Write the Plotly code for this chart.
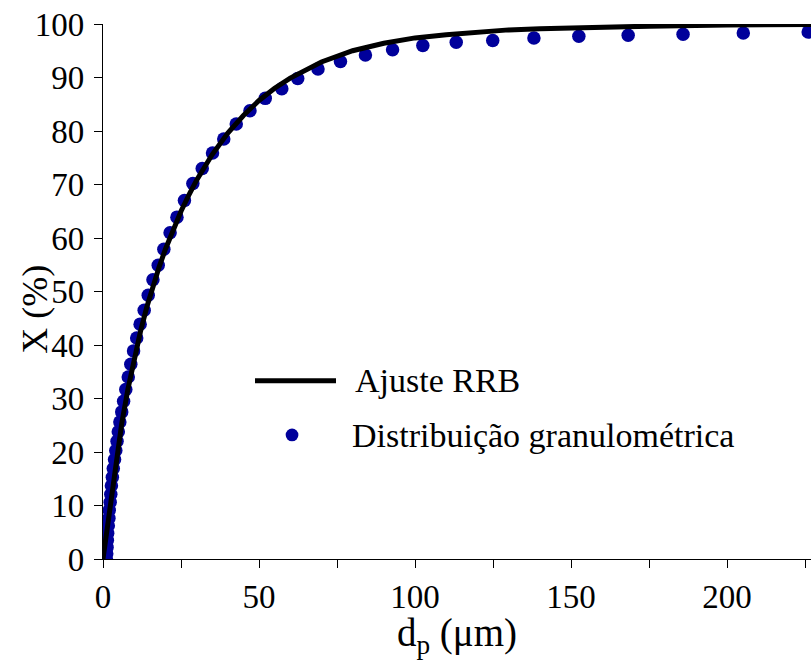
import plotly.graph_objects as go

# Measured particle size distribution (d_p in um, cumulative X in %)
dist_d = [1.1, 1.2, 1.3, 1.4, 1.5, 1.7, 1.9, 2.0, 2.3, 2.5, 2.7, 3.0, 3.3, 3.7, 4.1, 4.5,
          4.9, 5.4, 6.0, 6.6, 7.3, 8.1, 8.9, 9.8, 10.8, 11.9, 13.2, 14.5, 16.0, 17.7,
          19.5, 21.5, 23.7, 26.1, 28.8, 31.8, 35.1, 38.7, 42.7, 47.1, 52.0, 57.3,
          62.4, 68.9, 76.1, 84.1, 92.8, 102.5, 113.2, 124.9, 138.1, 152.5, 168.3,
          185.9, 205.2, 226.0]
dist_x = [0.0, 1.0, 2.2, 3.5, 4.8, 6.2, 7.6, 9.1, 10.6, 12.1, 13.7, 15.3, 16.9, 18.6, 20.3, 22.0,
          23.8, 25.6, 27.5, 29.5, 31.7, 34.0, 36.4, 38.9, 41.3, 43.9, 46.5, 49.3, 52.2, 54.9,
          57.9, 61.0, 63.9, 67.0, 70.2, 73.0, 75.9, 78.5, 81.3, 83.8, 86.1, 87.9,
          89.8, 91.6, 93.0, 94.2, 95.2, 96.0, 96.6, 96.9, 97.4, 97.7, 97.9,
          98.1, 98.3, 98.5]

# RRB fit curve
fit_d = [0, 0.5, 1, 2, 3, 4, 5, 6, 8, 10, 12, 14, 16, 18, 20, 22.5, 25, 27.5, 30, 35, 40,
         45, 50, 55, 60, 70, 80, 90, 100, 110, 120, 130, 140, 150, 160, 175, 200, 227]
fit_x = [0, 2.0, 4.0, 8.5, 13.0, 17.5, 21.5, 25.3, 31.8, 37.5, 42.5, 47.0, 51.0, 54.6, 57.9,
         61.6, 65.0, 68.0, 70.8, 75.6, 79.6, 82.9, 85.7, 88.0, 89.9, 92.9, 95.0, 96.4, 97.4,
         98.0, 98.5, 98.9, 99.1, 99.3, 99.5, 99.6, 99.8, 99.9]

series_names = ["Ajuste RRB", "Distribuição granulométrica"]
y_ticks = [0, 10, 20, 30, 40, 50, 60, 70, 80, 90, 100]
x_title = "d<sub>p</sub> (μm)"
y_title = "X (%)"

FONT = "Liberation Serif"
BLUE = "#00009B"

fig = go.Figure()
fig.add_trace(go.Scatter(x=dist_d, y=dist_x, mode="markers", name=series_names[1],
                         marker=dict(color=BLUE, size=13.5), showlegend=False))
fig.add_trace(go.Scatter(x=fit_d, y=fit_x, mode="lines", name=series_names[0],
                         line=dict(color="black", width=5), showlegend=False))

X_MAX = 226.9
fig.update_layout(
    width=811, height=660,
    margin=dict(l=103, r=0, t=24, b=101),
    paper_bgcolor="white", plot_bgcolor="white",
    font=dict(family=FONT, color="black", size=33),
    xaxis=dict(range=[0, X_MAX], dtick=50, tick0=0, ticks="outside", ticklen=8,
               tickwidth=1.3, tickcolor="black", showline=True, linecolor="black",
               linewidth=1.3, showgrid=False, zeroline=False,
               minor=dict(dtick=25, tick0=0, ticks="outside", ticklen=8, tickwidth=1.3,
                          tickcolor="black", showgrid=False),
               tickfont=dict(family=FONT, size=33), ticklabelstandoff=0,
               title=dict(text=x_title, font=dict(family=FONT, size=39), standoff=2)),
    xaxis2=dict(range=[0, X_MAX], overlaying="x", side="top", anchor="y",
                dtick=25, tick0=0, ticks="inside", ticklen=6, tickwidth=1.3,
                tickcolor="black", showline=True, linecolor="black", linewidth=1.3,
                showticklabels=False, showgrid=False, zeroline=False),
    yaxis=dict(range=[0, 100], tickvals=y_ticks, ticks="outside", ticklen=8,
               tickwidth=1.3, tickcolor="black", showline=True, linecolor="black",
               linewidth=1.3, showgrid=False, zeroline=False,
               tickfont=dict(family=FONT, size=33), ticklabelstandoff=3),
)

# Y axis title placed as in the reference
fig.add_annotation(xref="paper", yref="paper", x=-0.096, y=0.466, xanchor="center",
                   yanchor="middle", text=y_title, textangle=-90, showarrow=False,
                   font=dict(size=36, family=FONT, color="black"))

# Legend drawn inside the plot
fig.add_shape(type="line", xref="paper", yref="paper", x0=0.2147, x1=0.3291,
              y0=0.333, y1=0.333, line=dict(color="black", width=5))
fig.add_shape(type="circle", xref="paper", yref="paper", x0=0.2580, x1=0.2760,
              y0=0.2200, y1=0.2438, fillcolor=BLUE, line=dict(color=BLUE, width=0))
fig.add_annotation(xref="paper", yref="paper", x=0.3531, y=0.333, xanchor="left",
                   yanchor="middle", text=series_names[0], showarrow=False,
                   font=dict(size=34, family=FONT, color="black"))
fig.add_annotation(xref="paper", yref="paper", x=0.3489, y=0.2301, xanchor="left",
                   yanchor="middle", text=series_names[1], showarrow=False,
                   font=dict(size=34, family=FONT, color="black"))

fig.write_html("out.html")
